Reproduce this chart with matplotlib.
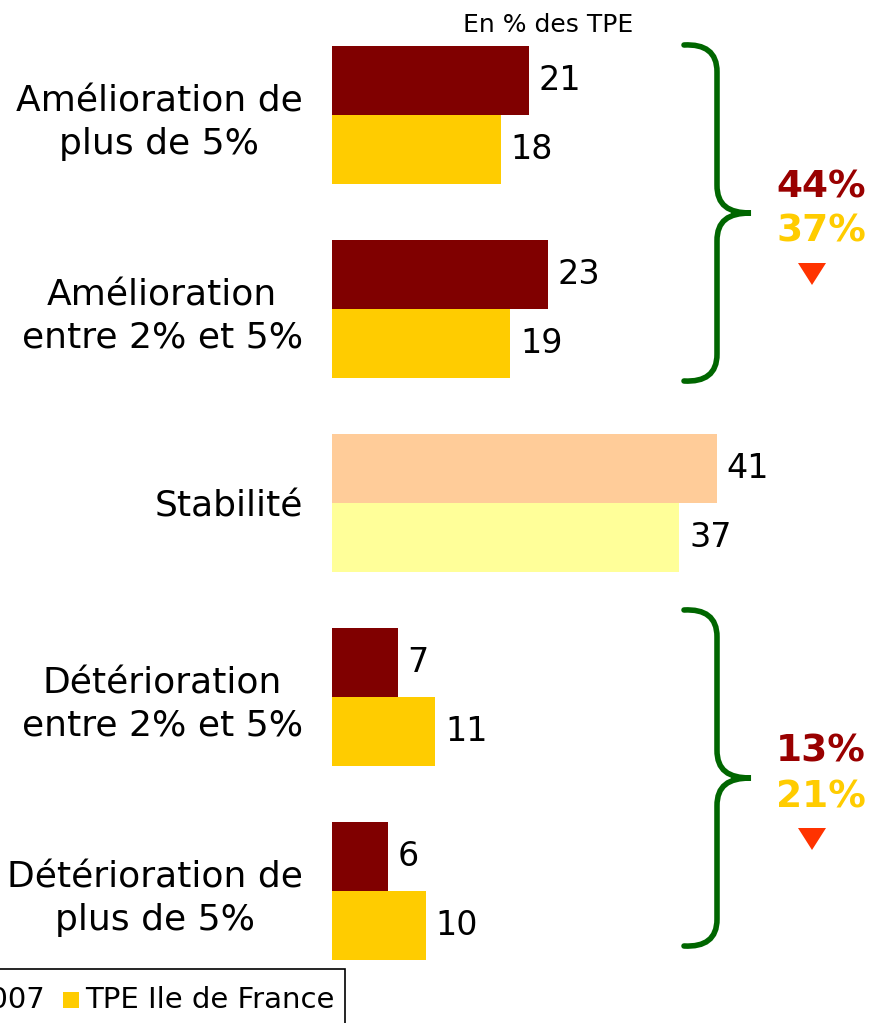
import matplotlib
matplotlib.use("Agg")
import matplotlib.pyplot as plt
from matplotlib.path import Path
import matplotlib.patches as mpatches
import numpy as np

# ── data ────────────────────────────────────────────────────────────────
categories = [
    "Amélioration de\nplus de 5%",
    "Amélioration\nentre 2% et 5%",
    "Stabilité",
    "Détérioration\nentre 2% et 5%",
    "Détérioration de\nplus de 5%",
]
serie_2007 = [21, 23, 41, 7, 6]
serie_idf = [18, 19, 37, 11, 10]
legend_labels = ["TPE Ile de France 2007", "TPE Ile de France"]

group_totals_2007 = ["44%", "13%"]
group_totals_idf = ["37%", "21%"]

# colours (the "Stabilité" row uses lighter shades)
c_dark = ["#800000", "#800000", "#FFCC99", "#800000", "#800000"]
c_yel = ["#FFCC00", "#FFCC00", "#FFFF99", "#FFCC00", "#FFCC00"]
GREEN = "#006600"

W, H = 870, 1023
fig = plt.figure(figsize=(W / 100, H / 100), dpi=100)

# bar axes in pixel layout: left 332, slot 194 px, first group centre at y=115
left_px, top_px, bot_px = 332, 18, 988
ax = fig.add_axes([left_px / W, (H - bot_px) / H, (W - left_px) / W, (bot_px - top_px) / H])
px_per_unit = 9.39
ax.set_xlim(0, (W - left_px) / px_per_unit)
ax.set_ylim(4.5, -0.5)

y = np.arange(len(categories))
bh = 69 / 194
ax.barh(y - bh / 2, serie_2007, height=bh, color=c_dark, edgecolor="none")
ax.barh(y + bh / 2, serie_idf, height=bh, color=c_yel, edgecolor="none")

for yi, v in zip(y - bh / 2, serie_2007):
    ax.annotate(str(v), (v, yi), xytext=(7, 0), textcoords="offset points",
                ha="left", va="center", fontsize=24, color="black")
for yi, v in zip(y + bh / 2, serie_idf):
    ax.annotate(str(v), (v, yi), xytext=(7, 0), textcoords="offset points",
                ha="left", va="center", fontsize=24, color="black")

ax.set_yticks(y)
ax.set_yticklabels(categories, fontsize=26)
for lab in ax.get_yticklabels():
    lab.set_multialignment("center")
    lab.set_linespacing(1.3)
ax.tick_params(axis="y", length=0, pad=21)
ax.set_xticks([])
for s in ax.spines.values():
    s.set_visible(False)
ax.patch.set_alpha(0)

# overlay in pixel coordinates for braces, notes and legend
ov = fig.add_axes([0, 0, 1, 1])
ov.set_xlim(0, W)
ov.set_ylim(H, 0)
ov.axis("off")
ov.patch.set_alpha(0)

ov.text(548, 25, "En % des TPE", ha="center", va="center", fontsize=18)


def brace(top, bottom):
    mid = (top + bottom) / 2
    verts = [(684, top),
             (705, top - 1), (717, top + 7), (717, top + 27),
             (717, mid - 28),
             (717, mid - 8), (728, mid), (751, mid),
             (728, mid), (717, mid + 8), (717, mid + 28),
             (717, bottom - 27),
             (717, bottom - 7), (705, bottom + 1), (684, bottom)]
    codes = [Path.MOVETO, Path.CURVE4, Path.CURVE4, Path.CURVE4, Path.LINETO,
             Path.CURVE4, Path.CURVE4, Path.CURVE4,
             Path.CURVE4, Path.CURVE4, Path.CURVE4, Path.LINETO,
             Path.CURVE4, Path.CURVE4, Path.CURVE4]
    ov.add_patch(mpatches.PathPatch(Path(verts, codes), fill=False, edgecolor=GREEN,
                                    lw=4, capstyle="round"))


for (top, bottom), t1, t2 in zip([(45, 381), (610, 946)], group_totals_2007, group_totals_idf):
    brace(top, bottom)
    mid = (top + bottom) / 2
    ov.text(821, mid - 26, t1, ha="center", va="center", fontsize=27,
            fontweight="bold", color="#990000")
    ov.text(821, mid + 19, t2, ha="center", va="center", fontsize=27,
            fontweight="bold", color="#FFCC00")
    ov.add_patch(mpatches.Polygon([(798, mid + 50), (826, mid + 50), (812, mid + 72)],
                                  closed=True, color="#FF3300", lw=0))

# legend box, cut by the left edge as in the source
ov.add_patch(mpatches.Rectangle((-200, 969), 545, 80, fill=False, edgecolor="black", lw=1.2,
                                clip_on=False))
ov.text(46, 1000, legend_labels[0][-4:], ha="right", va="center", fontsize=21)
ov.add_patch(mpatches.Rectangle((63, 992), 16, 16, color="#FFCC00", lw=0))
ov.text(85, 1000, legend_labels[1], ha="left", va="center", fontsize=21)

fig.savefig("out.png", dpi=100)
